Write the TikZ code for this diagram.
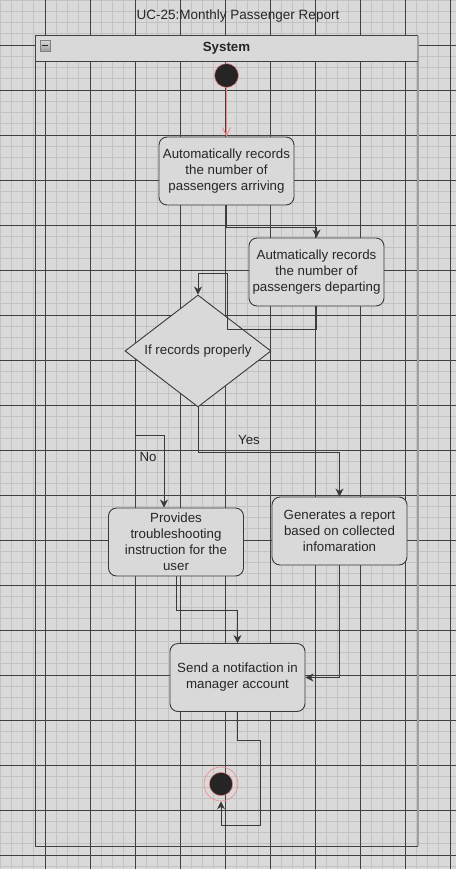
\documentclass[tikz,border=0pt]{standalone}
\usepackage{fontspec}
\setmainfont{Liberation Sans}
\usetikzlibrary{shapes.geometric,arrows.meta,calc}

\definecolor{paper}{HTML}{D9D9D9}
\definecolor{minorline}{HTML}{C2C2C2}
\definecolor{majorline}{HTML}{404040}
\definecolor{edge}{HTML}{3A3A3A}
\definecolor{ink}{HTML}{262626}
\definecolor{ringred}{HTML}{F08888}
\definecolor{dotcol}{HTML}{252525}

\tikzset{
  action/.style={draw=edge, fill=paper, rounded corners=8pt, line width=0.9pt,
    minimum width=135pt, minimum height=68pt, align=center, inner sep=0pt,
    text=ink, font=\fontsize{13.3}{16}\selectfont},
  decision/.style={diamond, draw=edge, fill=paper, line width=0.9pt, aspect=1.3,
    minimum width=146pt, minimum height=112pt, inner sep=0pt,
    text=ink, font=\fontsize{13.3}{16}\selectfont},
  flow/.style={draw=edge, line width=0.9pt, -{Stealth[length=8pt,width=8pt,inset=2.5pt]}},
  flowred/.style={draw=ringred, line width=0.9pt, -{Straight Barb[length=8pt,width=8pt]}},
  guard/.style={text=ink, font=\fontsize{13.3}{16}\selectfont},
}

\begin{document}
\begin{tikzpicture}[x=1pt, y=-1pt]
	% Canvas and grid
	\fill[paper] (0,0) rectangle (456,869);
	\useasboundingbox (0,0) rectangle (456,869);
	\foreach \x in {0,11.25,...,456} \draw[minorline, line width=0.8pt] (\x,0) -- (\x,869);
	\foreach \y in {0,11.25,...,869} \draw[minorline, line width=0.8pt] (0,\y) -- (456,\y);
	\foreach \x in {45,90,...,450} \draw[majorline, line width=0.8pt] (\x,0) -- (\x,869);
	\foreach \y in {45,90,...,855} \draw[majorline, line width=0.8pt] (0,\y) -- (456,\y);

	% Title and swimlane frame
	\node[text=ink, font=\fontsize{13.5}{16}\selectfont] (title) at (238,16) {UC-25:Monthly Passenger Report};
	\fill[paper] (35,36) rectangle (418,62);
	\draw[majorline, line width=1pt] (418,36) -- (35,36) -- (35,846) -- (418,846);
	\draw[gray!75, line width=1.6pt] (418,36) -- (418,846);
	\draw[majorline, line width=1pt] (35,62) -- (418,62);
	\draw[gray, top color=gray!30, bottom color=gray!75] (40,40) rectangle (50,51);
	\draw[ink, line width=1.2pt] (42,45.5) -- (48,45.5);
	\node[text=ink, font=\bfseries\fontsize{13.3}{16}\selectfont] (lane) at (226.5,48.5) {System};

	% Activity nodes
	\node (start) [circle, fill=dotcol, draw=ringred, line width=0.6pt, minimum size=24pt, inner sep=0pt] at (226.5,75.5) {};
	\node (arrive) [action] at (226.5,171) {Automatically records\\the number of\\passengers arriving};
	\node (depart) [action] at (316.5,272) {Autmatically records\\the number of\\passengers departing};
	\node (check) [decision] at (198,351) {If records properly};
	\node (help) [action] at (176,542) {Provides\\troubleshooting\\instruction for the\\user};
	\node (report) [action] at (339.5,531) {Generates a report\\based on collected\\infomaration};
	\node (notify) [action] at (237.5,677.5) {Send a notifaction in\\manager account};
	\node (stop) [circle, draw=ringred, line width=0.6pt, minimum size=34pt, inner sep=0pt] at (221,784) {};
	\filldraw[fill=dotcol, draw=ringred, line width=0.6pt] (stop.center) circle (11.7);

	% Connectors
	\coordinate (nodrop) at (164,435);
	\draw[flowred] (start) -- (arrive);
	\draw[flow] (arrive.south) -- ++(0,22) -| (depart.north);
	\draw[flow] (depart.south) |- (227,329) |- (198,273) -- (check.north);
	\draw[flow] ($(check.west)!0.15!(check.south)$) |- (nodrop) -- (help.north -| nodrop);
	\draw[flow] (check.south) -- ++(0,45) -| (report.north);
	\draw[flow] (help.south) -- ++(0,34) -| (notify.north);
	\draw[flow] (report.south) |- (notify.east);
	\draw[flow] (notify.south) -- ++(0,28) -- ++(22.5,0) -- ++(0,85) -| (stop.south);
	\node[guard] (nolabel) at (148,457) {No};
	\node[guard] (yeslabel) at (249,440) {Yes};
\end{tikzpicture}
\end{document}
